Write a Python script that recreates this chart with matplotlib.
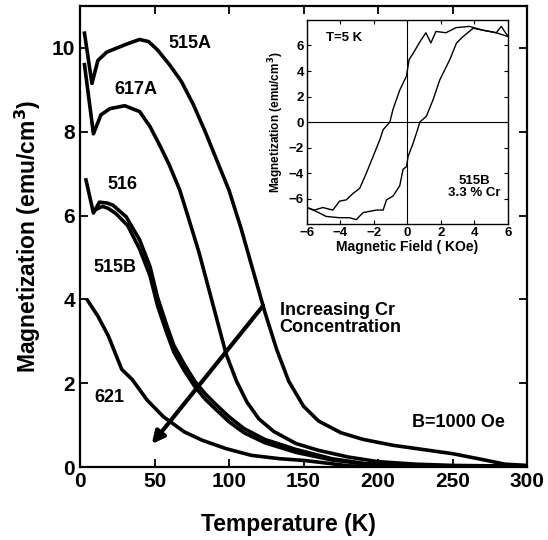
import numpy as np
import matplotlib.pyplot as plt

plt.rcParams['font.family'] = ['Liberation Sans', 'DejaVu Sans']
plt.rcParams['font.weight'] = 'bold'

# main panel: M(T) at B = 1000 Oe
T_515A = [3, 8, 12, 18, 25, 32, 40, 46, 52, 60, 68, 76, 84, 92, 100, 108, 116, 124,
          132, 140, 150, 160, 175, 190, 210, 230, 250, 270, 285, 300]
M_515A = [10.35, 9.15, 9.7, 9.9, 10.0, 10.1, 10.2, 10.15, 9.95, 9.6, 9.2, 8.65, 8.0, 7.3,
          6.6, 5.7, 4.7, 3.7, 2.8, 2.05, 1.45, 1.1, 0.82, 0.66, 0.52, 0.42, 0.32, 0.18, 0.07, 0.04]

T_617A = [3, 9, 14, 20, 30, 40, 47, 54, 60, 67, 74, 80, 86, 92, 98, 105, 112, 120, 130,
          145, 160, 180, 200, 225, 250, 300]
M_617A = [9.6, 7.95, 8.4, 8.55, 8.62, 8.48, 8.12, 7.64, 7.2, 6.6, 5.8, 5.1, 4.3, 3.5, 2.7,
          2.05, 1.55, 1.15, 0.85, 0.56, 0.4, 0.24, 0.13, 0.07, 0.04, 0.02]

T_516 = [4, 9, 13, 18, 22, 31, 40, 47, 52, 58, 63, 70, 77, 84, 91, 100, 110, 124, 145,
         169, 192, 220, 260, 300]
M_516 = [6.85, 6.06, 6.32, 6.3, 6.25, 5.97, 5.42, 4.78, 4.05, 3.4, 2.9, 2.45, 2.05, 1.75,
         1.5, 1.2, 0.92, 0.66, 0.42, 0.2, 0.08, 0.04, 0.02, 0.01]

T_515B = [11, 15, 19, 24, 32, 40, 47, 52, 58, 63, 70, 77, 84, 91, 100, 110, 124, 145,
          169, 192, 220, 260, 300]
M_515B = [6.15, 6.22, 6.17, 6.05, 5.76, 5.2, 4.56, 3.85, 3.22, 2.74, 2.3, 1.92, 1.62, 1.38,
          1.08, 0.82, 0.58, 0.35, 0.17, 0.07, 0.03, 0.02, 0.01]

T_621 = [5, 12, 19, 28, 35, 45, 56, 70, 82, 98, 115, 134, 150, 169, 180, 200, 250, 300]
M_621 = [3.98, 3.6, 3.13, 2.33, 2.09, 1.6, 1.2, 0.84, 0.64, 0.44, 0.28, 0.2, 0.16, 0.08,
         0.03, 0.01, 0.0, 0.0]

# inset: hysteresis loop at 5 K
H_down = [6.0, 5.6, 5.3, 4.5, 3.7, 2.9, 2.3, 1.7, 1.4, 1.1, 0.7, 0.35, 0.1, -0.06, -0.26,
          -0.46, -0.66, -0.86, -1.05, -1.45, -1.65, -2.05, -2.45, -2.85, -3.25, -3.65,
          -4.05, -4.45, -5.05, -5.55, -6.0]
M_down = [6.7, 7.5, 7.0, 7.2, 7.5, 7.4, 7.0, 7.1, 6.2, 7.0, 6.2, 5.4, 4.9, 3.6, 3.05,
          2.5, 1.75, 1.0, 0.0, -0.6, -1.4, -2.7, -4.0, -5.2, -5.6, -6.1, -6.2, -6.9, -6.7,
          -6.9, -6.7]
H_up = [-6.0, -5.45, -4.85, -4.05, -3.45, -3.05, -2.65, -2.25, -1.85, -1.45, -1.25, -0.86,
        -0.46, -0.26, -0.06, 0.04, 0.34, 0.54, 0.74, 1.13, 1.53, 1.93, 2.53, 2.93, 3.32,
        3.92, 4.5, 5.3, 6.0]
M_up = [-6.7, -7.0, -7.4, -7.5, -7.5, -7.65, -7.1, -7.0, -6.9, -6.9, -6.1, -5.8, -5.0,
        -3.7, -3.5, -2.7, -1.65, -0.86, 0.0, 0.45, 1.75, 3.3, 4.9, 6.2, 6.7, 7.35, 7.2,
        7.0, 6.7]

fig = plt.figure(figsize=(5.48, 5.4), dpi=100)
ax = fig.add_axes([0.146, 0.135, 0.816, 0.854])

lw = 2.6
ax.plot(T_515A, M_515A, 'k', lw=lw)
ax.plot(T_617A, M_617A, 'k', lw=lw)
ax.plot(T_516, M_516, 'k', lw=lw)
ax.plot(T_515B, M_515B, 'k', lw=lw)
ax.plot(T_621, M_621, 'k', lw=lw)

ax.set_xlim(0, 300)
ax.set_ylim(0, 11)
ax.set_xticks(np.arange(0, 301, 50))
ax.set_yticks(np.arange(0, 11, 2))
ax.tick_params(direction='in', top=True, right=True, length=6, width=1.3, labelsize=15)
for s in ax.spines.values():
    s.set_linewidth(1.6)
ax.set_xlabel('Temperature (K)', fontsize=16.5, fontweight='bold')
ax.xaxis.set_label_coords(0.467, -0.1)
ax.set_ylabel('Magnetization (emu/cm$^\\mathbf{3}$)', fontsize=16.5, fontweight='bold', labelpad=6)

fs = 13
ax.text(74, 10.1, '515A', fontsize=fs, ha='center', va='center')
ax.text(37.5, 9.0, '617A', fontsize=fs, ha='center', va='center')
ax.text(28.5, 6.73, '516', fontsize=fs, ha='center', va='center')
ax.text(23.5, 4.75, '515B', fontsize=fs, ha='center', va='center')
ax.text(20, 1.65, '621', fontsize=fs, ha='center', va='center')
ax.text(134, 3.53, 'Increasing Cr\nConcentration', fontsize=13, ha='left', va='center',
        linespacing=1.0)
ax.text(254, 1.07, 'B=1000 Oe', fontsize=13, ha='center', va='center')
ax.annotate('', xy=(47, 0.5), xytext=(124, 3.9),
            arrowprops=dict(arrowstyle='-|>', lw=3, color='k', mutation_scale=18))

# inset
ins = fig.add_axes([0.560, 0.585, 0.367, 0.378])
ins.plot(H_down, M_down, 'k', lw=1.0)
ins.plot(H_up, M_up, 'k', lw=1.0)
ins.axhline(0, color='k', lw=0.8)
ins.axvline(0, color='k', lw=0.8)
ins.set_xlim(-6, 6)
ins.set_ylim(-8, 8)
ins.set_xticks(np.arange(-6, 7, 2))
ins.set_yticks(np.arange(-6, 7, 2))
ins.tick_params(direction='in', top=True, right=True, length=3, width=0.8, labelsize=9.5,
                pad=2)
for s in ins.spines.values():
    s.set_linewidth(1.0)
ins.set_xlabel('Magnetic Field ( KOe)', fontsize=10, fontweight='bold', labelpad=1)
ins.set_ylabel('Magnetization (emu/cm$^\\mathbf{3}$)', fontsize=8.5, fontweight='bold',
               labelpad=2)
ins.text(-3.8, 6.6, 'T=5 K', fontsize=9.5, ha='center', va='center')
ins.text(4.0, -5.1, '515B\n3.3 % Cr', fontsize=9.5, ha='center', va='center', linespacing=1.0)

plt.savefig('out.png', dpi=100)
